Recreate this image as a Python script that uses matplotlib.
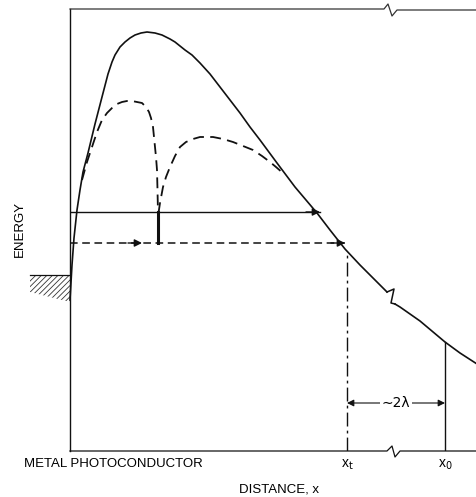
import matplotlib
matplotlib.use("Agg")
import matplotlib.pyplot as plt
from matplotlib.patches import Polygon

plt.rcParams['font.family'] = ['Liberation Sans', 'DejaVu Sans']
plt.rcParams['hatch.linewidth'] = 0.6

# ---- data (distance from metal interface, energy above baseline; arbitrary units)
solid1_x = [0, 2, 4, 7, 10, 13, 18, 25, 32, 38, 42, 45, 50, 55, 60, 65, 71, 77, 85, 92, 100,
            105, 115, 122, 130, 140, 150, 160, 170, 180, 190, 207, 225, 247, 260, 275, 290,
            305, 317]
solid1_y = [151, 186, 213, 241, 261, 279, 298, 327, 354, 377, 389, 396, 404, 409, 413, 416,
            418, 419, 418, 416, 412, 409, 401, 396, 388, 377, 364, 351, 338, 324, 311, 288,
            264, 238, 221, 202, 186, 171, 159]
solid2_x = [325, 330, 350, 375, 390, 407]
solid2_y = [147, 144, 130, 109, 98, 87]

dash1_x = [12, 17, 22, 27, 32, 37, 42, 47, 52, 57, 62, 67, 72, 76, 79, 81, 83, 84, 85, 86,
           87, 87.5, 88]
dash1_y = [271, 289, 304, 319, 331, 338, 343, 347, 349, 350, 350, 349, 348, 344, 339, 333,
           324, 314, 304, 294, 281, 261, 238]
dash2_x = [88.5, 90, 93, 96, 100, 105, 110, 116, 123, 130, 143, 153, 163, 173, 183, 192,
           200, 206, 214]
dash2_y = [238, 248, 264, 274, 284, 295, 304, 309, 312, 314, 314, 312, 309, 305, 301, 295,
           289, 284, 277]

level_solid = 239      # solid horizontal arrow energy
level_solid_end = 250
level_dash = 208       # dashed horizontal arrow energy
level_dash_end = 275
bar_x = 88
x_t = 277
x_t_energy = 200
x_0 = 375
x_0_energy = 109
lam_level = 48
top_level = 442
x_max = 407
metal_top = 176
metal_bottom_left = 159
metal_bottom_right = 149
metal_left = -40

fig = plt.figure(figsize=(4.77, 4.97), dpi=100)
ax = fig.add_axes([70 / 477, (497 - 451) / 497, (477 - 70) / 477, (451 - 9) / 497])
ax.set_xlim(0, x_max)
ax.set_ylim(0, top_level)
ax.axis('off')

lc = '#111111'
# frame: left spine and bottom axis with a break
ax.plot([0, 0], [0, top_level], color=lc, lw=1.0, clip_on=False)
bx = 323
ax.plot([0, bx - 6, bx - 1, bx + 2, bx + 7, x_max], [0, 0, 5, -6, 0, 0], color=lc, lw=0.9, clip_on=False)
tx = 320
ax.plot([0, tx - 6, tx - 2, tx + 2, tx + 7, x_max],
        [top_level, top_level, top_level + 5, top_level - 7, top_level - 1, top_level - 1],
        color='#333333', lw=0.9, clip_on=False)

# main barrier curve with break
ax.plot(solid1_x, solid1_y, color=lc, lw=1.2, clip_on=False, solid_joinstyle='round')
ax.plot([solid1_x[-1], solid1_x[-1] + 7, solid1_x[-1] + 4, solid2_x[0]],
        [solid1_y[-1], solid1_y[-1] + 3, solid1_y[-1] - 11, solid2_y[0]], color=lc, lw=1.1)
ax.plot(solid2_x, solid2_y, color=lc, lw=1.2, clip_on=False)

# dashed curves
ax.plot(dash1_x, dash1_y, color=lc, lw=1.3, dashes=(6, 3.5))
ax.plot(dash2_x, dash2_y, color=lc, lw=1.3, dashes=(6, 3.5))
ax.plot([bar_x, bar_x], [level_solid, level_dash], color=lc, lw=2.2)

# solid horizontal arrow
ax.plot([0, level_solid_end], [level_solid, level_solid], color=lc, lw=1.0)
ax.annotate('', xy=(level_solid_end, level_solid), xytext=(level_solid_end - 14, level_solid),
            arrowprops=dict(arrowstyle='-|>', color=lc, lw=1.0, mutation_scale=11,
                            shrinkA=0, shrinkB=0))
# dashed horizontal arrow
ax.plot([0, level_dash_end], [level_dash, level_dash], color=lc, lw=1.1, dashes=(5, 3))
for xe in (72, level_dash_end):
    ax.annotate('', xy=(xe, level_dash), xytext=(xe - 14, level_dash),
                arrowprops=dict(arrowstyle='-|>', color=lc, lw=1.0, mutation_scale=11,
                                shrinkA=0, shrinkB=0))

# x_t dash-dot line and x_0 line
ax.plot([x_t, x_t], [0, x_t_energy], color=lc, lw=1.0, dashes=(10, 3, 2, 3))
ax.plot([x_0, x_0], [0, x_0_energy], color=lc, lw=1.0)

# ~2 lambda double arrow
ax.annotate('', xy=(x_0, lam_level), xytext=(x_t, lam_level),
            arrowprops=dict(arrowstyle='<|-|>', color=lc, lw=0.8, mutation_scale=10,
                            shrinkA=0, shrinkB=0))
ax.text((x_t + x_0) / 2, lam_level, '∼2λ', ha='center', va='center', fontsize=10,
        family=['DejaVu Sans'], bbox=dict(facecolor='white', edgecolor='none', pad=1.0))

# metal hatched region
poly = Polygon([(metal_left, metal_top), (0, metal_top), (0, metal_bottom_right),
                (metal_left, metal_bottom_left)], closed=True, facecolor='white',
               edgecolor='none', hatch='//////', clip_on=False)
poly.set_edgecolor('#333333')
poly.set_linewidth(0)
ax.add_patch(poly)
ax.plot([metal_left, 0], [metal_top, metal_top], color=lc, lw=0.9, clip_on=False)

# labels
ax.text(-50, 222, 'ENERGY', rotation=90, ha='center', va='center', fontsize=9.5, clip_on=False)
ax.text(-46, -13, 'METAL PHOTOCONDUCTOR', ha='left', va='center', fontsize=9.5, clip_on=False)
ax.text(x_t, -14, r'x$_{\rm t}$', ha='center', va='center', fontsize=10, clip_on=False)
ax.text(x_0, -14, r'x$_{\rm 0}$', ha='center', va='center', fontsize=10, clip_on=False)
ax.text(209, -39, 'DISTANCE, x', ha='center', va='center', fontsize=9.5, clip_on=False)

fig.savefig('out.png', dpi=100)
